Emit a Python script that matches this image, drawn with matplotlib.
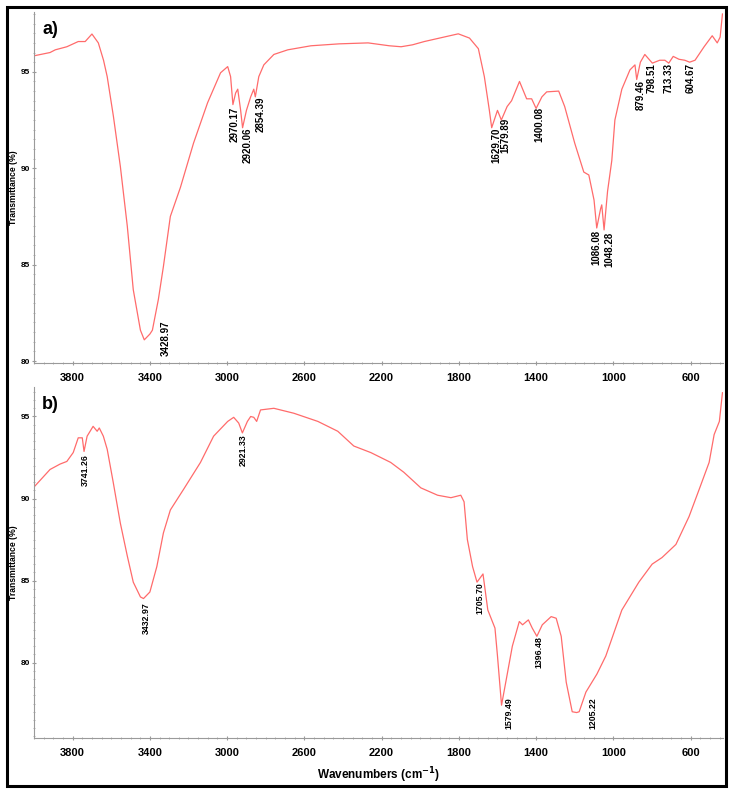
import matplotlib
matplotlib.use("Agg")
import matplotlib.pyplot as plt
from matplotlib.patches import Rectangle
from matplotlib.ticker import MultipleLocator

plt.rcParams['font.family'] = ['Liberation Sans', 'DejaVu Sans']

# ---- Panel a spectrum (wavenumber, transmittance %) ----
wn_a = [4000, 3917, 3890, 3830, 3771, 3735, 3700, 3667, 3640, 3621, 3589, 3553,
        3517, 3486, 3449, 3429, 3400, 3387, 3356, 3330, 3294, 3242, 3174, 3101,
        3034, 2997, 2982, 2970, 2956, 2945, 2930, 2920, 2900, 2878, 2862, 2854,
        2836, 2810, 2758, 2686, 2566, 2420, 2270, 2160, 2099, 2040, 1979, 1900,
        1803, 1745, 1699, 1668, 1642, 1630, 1600, 1580, 1550, 1527, 1486, 1449,
        1423, 1400, 1370, 1345, 1283, 1252, 1200, 1153, 1127, 1100, 1086, 1066,
        1060, 1048, 1030, 1008, 992, 956, 914, 888, 879, 860, 837, 798, 760, 733,
        713, 690, 660, 630, 605, 577, 530, 488, 462, 447, 435]
tr_a = [95.83, 96.0, 96.14, 96.3, 96.57, 96.57, 96.96, 96.5, 95.6, 94.75, 92.7,
        90.1, 87.0, 83.7, 81.6, 81.1, 81.4, 81.6, 83.2, 84.9, 87.5, 89.0, 91.3,
        93.4, 94.95, 95.27, 94.75, 93.3, 93.9, 94.1, 93.0, 92.1, 93.0, 93.7,
        94.1, 93.7, 94.75, 95.36, 95.9, 96.14, 96.35, 96.45, 96.5, 96.35, 96.3,
        96.4, 96.57, 96.75, 96.97, 96.75, 96.2, 94.75, 93.0, 92.1, 93.0, 92.5,
        93.2, 93.5, 94.5, 93.6, 93.6, 93.1, 93.7, 93.96, 94.0, 93.2, 91.3,
        89.8, 89.65, 88.35, 86.9, 87.9, 88.1, 86.8, 88.8, 90.4, 92.5, 94.1,
        95.1, 95.36, 94.6, 95.5, 95.9, 95.45, 95.6, 95.6, 95.45, 95.8, 95.65,
        95.6, 95.5, 95.6, 96.3, 96.87, 96.5, 96.8, 98.0]

# ---- Panel b spectrum ----
wn_b = [4000, 3917, 3865, 3830, 3797, 3771, 3750, 3741, 3725, 3694, 3673, 3662,
        3641, 3621, 3590, 3553, 3517, 3486, 3449, 3433, 3400, 3364, 3330, 3294,
        3226, 3138, 3070, 2997, 2966, 2940, 2921, 2895, 2878, 2862, 2847, 2827,
        2758, 2655, 2530, 2427, 2344, 2256, 2153, 2085, 1997, 1910, 1841, 1790,
        1773, 1756, 1729, 1706, 1675, 1650, 1613, 1600, 1579, 1554, 1523, 1487,
        1470, 1440, 1420, 1396, 1368, 1322, 1296, 1270, 1244, 1213, 1190, 1177,
        1142, 1085, 1039, 956, 868, 799, 748, 676, 608, 551, 504, 478, 451, 435]
tr_b = [90.7, 91.77, 92.1, 92.26, 92.8, 93.7, 93.7, 92.87, 93.8, 94.4, 94.1,
        94.3, 93.8, 93.0, 91.0, 88.5, 86.5, 84.9, 84.0, 83.9, 84.3, 85.85, 87.9,
        89.3, 90.55, 92.2, 93.8, 94.7, 94.95, 94.6, 94.0, 94.7, 95.0, 94.95,
        94.7, 95.4, 95.5, 95.2, 94.7, 94.1, 93.2, 92.8, 92.2, 91.6, 90.65, 90.2,
        90.05, 90.2, 89.8, 87.5, 85.85, 84.9, 85.4, 83.2, 82.1, 80.4, 77.4,
        79.0, 81.0, 82.5, 82.3, 82.6, 82.1, 81.6, 82.3, 82.8, 82.7, 81.6, 78.8,
        77.0, 76.95, 77.0, 78.2, 79.3, 80.4, 83.2, 84.9, 86.0, 86.4, 87.2, 88.9,
        90.7, 92.2, 93.9, 94.7, 96.45]

# ---- Peak labels: (label, x position, top y of text) ----
peaks_a = ["3428.97", "2970.17", "2920.06", "2854.39", "1629.70", "1579.89",
           "1400.08", "1086.08", "1048.28", "879.46", "798.51", "713.33", "604.67"]
peaks_a_x = [3320, 2960, 2893, 2825, 1605, 1560, 1385, 1090, 1022, 860, 800, 713, 600]
peaks_a_y = [82.1, 93.2, 92.1, 93.7, 92.1, 92.6, 93.2, 86.8, 86.7, 94.6, 95.45, 95.45, 95.45]

peaks_b = ["3741.26", "3432.97", "2921.33", "1705.70", "1579.49", "1396.48", "1205.22"]
peaks_b_x = [3735, 3420, 2918, 1692, 1542, 1385, 1105]
peaks_b_y = [92.7, 83.7, 93.9, 84.9, 77.9, 81.6, 77.9]

yticks = [80, 85, 90, 95]
xticks = [3800, 3400, 3000, 2600, 2200, 1800, 1400, 1000, 600]

line_color = '#ff6b6b'
fig = plt.figure(figsize=(7.33, 7.92), dpi=100)

ax_a = fig.add_axes([0.0464, 0.5417, 0.94, 0.4431])
ax_b = fig.add_axes([0.0464, 0.0682, 0.94, 0.4432])


def style(ax, ylim):
    ax.set_xlim(4000, 432)
    ax.set_ylim(*ylim)
    for s in ['top', 'right']:
        ax.spines[s].set_visible(False)
    for s in ['left', 'bottom']:
        ax.spines[s].set_color('#9a9a9a')
        ax.spines[s].set_linewidth(0.8)
    ax.set_xticks(xticks)
    ax.set_yticks(yticks)
    ax.xaxis.set_minor_locator(MultipleLocator(50))
    ax.yaxis.set_minor_locator(MultipleLocator(0.5))
    ax.tick_params(axis='both', which='major', colors='#9a9a9a', length=2.5,
                   width=0.8, direction='inout', labelcolor='black', pad=6)
    ax.tick_params(axis='both', which='minor', colors='#a8a8a8', length=1.6,
                   width=0.6, direction='inout')
    ax.tick_params(axis='x', labelsize=8)
    ax.tick_params(axis='y', labelsize=6, pad=1.5)
    for lbl in ax.get_xticklabels() + ax.get_yticklabels():
        lbl.set_fontweight('bold')
    ax.set_ylabel('Transmittance (%)', fontsize=6.2, fontweight='bold', labelpad=2)


style(ax_a, (79.9, 98.1))
style(ax_b, (75.4, 96.8))

ax_a.plot(wn_a, tr_a, color=line_color, lw=0.9)
ax_b.plot(wn_b, tr_b, color=line_color, lw=0.9)

for lab, x, y in zip(peaks_a, peaks_a_x, peaks_a_y):
    ax_a.text(x, y, lab, rotation=90, ha='center', va='top', fontsize=7,
              fontweight='bold')
for lab, x, y in zip(peaks_b, peaks_b_x, peaks_b_y):
    ax_b.text(x, y, lab, rotation=90, ha='center', va='top', fontsize=6.3,
              fontweight='bold')

ax_a.text(0.012, 0.975, 'a)', transform=ax_a.transAxes, fontsize=13,
          fontweight='bold', va='top', ha='left')
ax_b.text(0.012, 0.975, 'b)', transform=ax_b.transAxes, fontsize=13,
          fontweight='bold', va='top', ha='left')

ax_b.set_xlabel('Wavenumbers (cm$^{\\mathbf{-1}}$)', fontsize=8.5,
                fontweight='bold', labelpad=5)

fig.patches.append(Rectangle((0.009, 0.008), 0.982, 0.983, transform=fig.transFigure,
                             fill=False, edgecolor='black', lw=2.2))

fig.savefig('out.png', dpi=100)
